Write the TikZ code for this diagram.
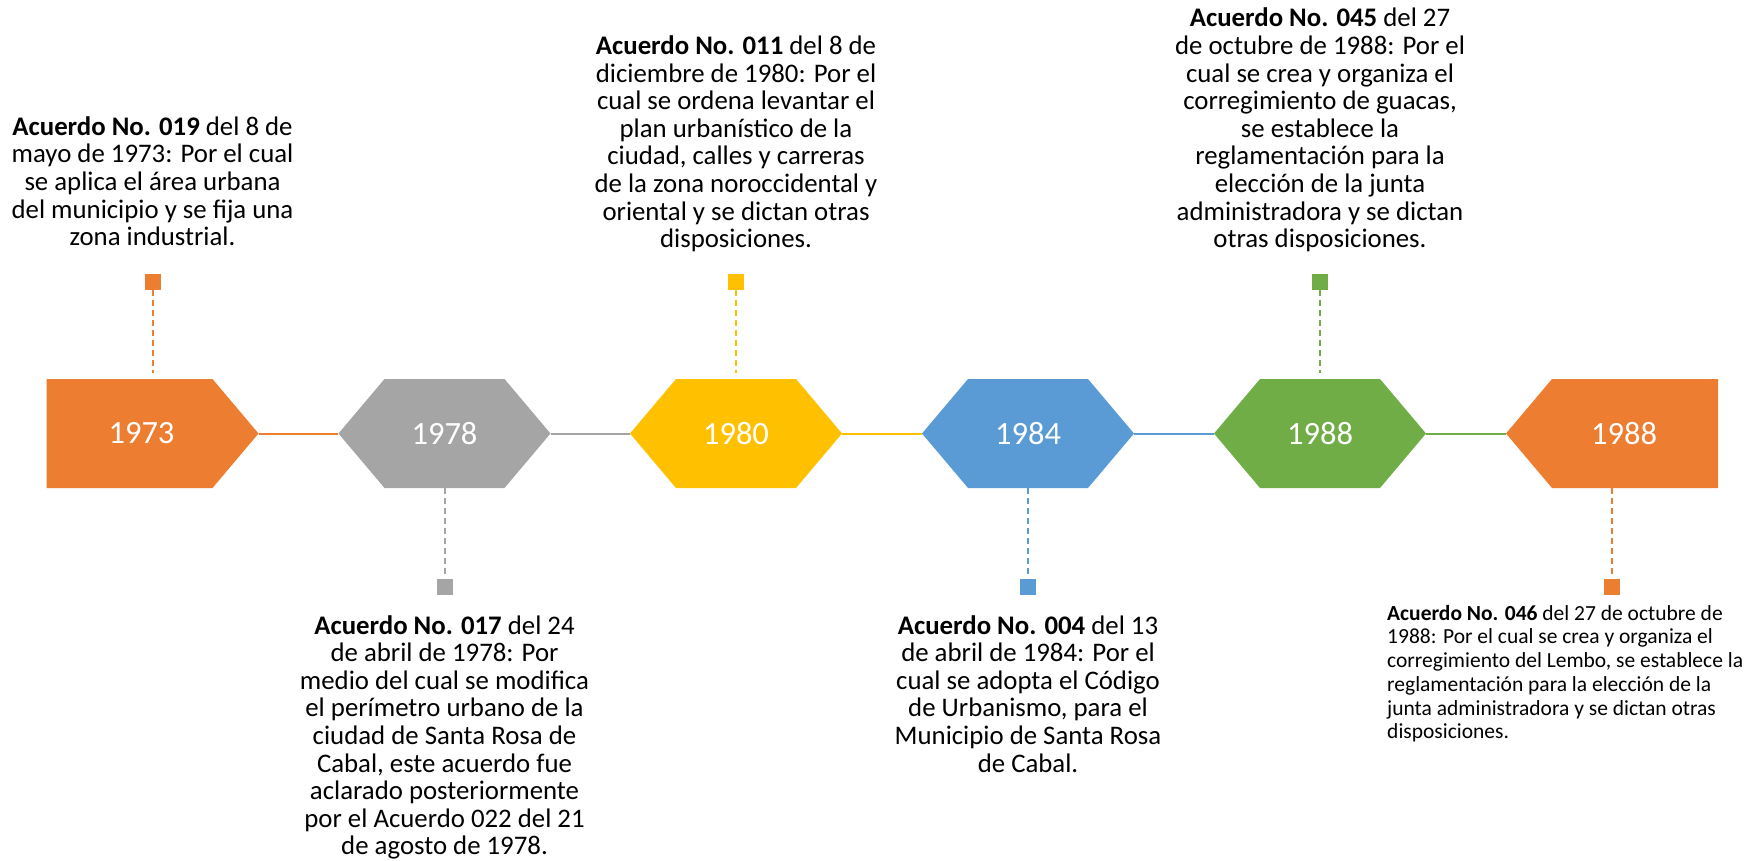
\documentclass[tikz,border=0pt]{standalone}
\usepackage{fontspec}
\setmainfont{Carlito}
\usetikzlibrary{positioning}
\definecolor{naranja}{HTML}{ED7D31}
\definecolor{gris}{HTML}{A5A5A5}
\definecolor{amarillo}{HTML}{FFC000}
\definecolor{azul}{HTML}{5B9BD5}
\definecolor{verde}{HTML}{70AD47}

\begin{document}
\begin{tikzpicture}[
    x=1pt, y=-1pt,
    yearbox/.style={minimum width=212pt, minimum height=109pt, inner sep=0pt,
      text=white, font=\fontsize{32.5}{32.5}\selectfont},
    hexa/.style={yearbox, path picture={\fill[#1]
      (path picture bounding box.west)
      -- ([xshift=46pt]path picture bounding box.north west)
      -- ([xshift=-46pt]path picture bounding box.north east)
      -- (path picture bounding box.east)
      -- ([xshift=-46pt]path picture bounding box.south east)
      -- ([xshift=46pt]path picture bounding box.south west) -- cycle;}},
    start/.style={yearbox, path picture={\fill[#1]
      (path picture bounding box.north west)
      -- ([xshift=-46pt]path picture bounding box.north east)
      -- (path picture bounding box.east)
      -- ([xshift=-46pt]path picture bounding box.south east)
      -- (path picture bounding box.south west) -- cycle;}},
    finish/.style={yearbox, path picture={\fill[#1]
      (path picture bounding box.west)
      -- ([xshift=46pt]path picture bounding box.north west)
      -- (path picture bounding box.north east)
      -- (path picture bounding box.south east)
      -- ([xshift=46pt]path picture bounding box.south west) -- cycle;}},
    mark box/.style={minimum size=16pt, inner sep=0pt, fill=#1},
    guide/.style={draw=#1, line width=2pt, dash pattern=on 6pt off 4pt},
    link/.style={draw=#1, line width=2pt},
    note/.style={align=center, inner sep=0pt, text depth=0pt,
      font=\fontsize{26.8}{27.6}\selectfont},
    note up/.style={note, anchor=south},
    note down/.style={note, anchor=north}
  ]
  \useasboundingbox (0,0) rectangle (1756,861);

  % years on the line
  \node[start=naranja, label={[text=white, font=\fontsize{32.5}{32.5}\selectfont, xshift=-11pt]center:1973}] (y73) at (152.5,433.5) {};
  \node[hexa=gris] (y78) at (444.5,433.5) {1978};
  \node[hexa=amarillo] (y80) at (736,433.5) {1980};
  \node[hexa=azul] (y84) at (1028,433.5) {1984};
  \node[hexa=verde] (y88) at (1320,433.5) {1988};
  \node[finish=naranja, label={[text=white, font=\fontsize{32.5}{32.5}\selectfont, xshift=12pt]center:1988}] (y88b) at (1612,433.5) {};

  \draw[link=naranja] (y73.east) -- (y78.west);
  \draw[link=gris] (y78.east) -- (y80.west);
  \draw[link=amarillo] (y80.east) -- (y84.west);
  \draw[link=azul] (y84.east) -- (y88.west);
  \draw[link=verde] (y88.east) -- (y88b.west);

  % markers
  \node[mark box=naranja] (m73) at (152.5,281.5) {};
  \node[mark box=gris] (m78) at (444.5,586.5) {};
  \node[mark box=amarillo] (m80) at (736,281.5) {};
  \node[mark box=azul] (m84) at (1028,586.5) {};
  \node[mark box=verde] (m88) at (1320,281.5) {};
  \node[mark box=naranja] (m88b) at (1612,586.5) {};

  \draw[guide=naranja, shorten >=6pt] (m73) -- (y73);
  \draw[guide=gris, shorten >=2pt] (y78) -- (m78);
  \draw[guide=amarillo, shorten >=6pt] (m80) -- (y80);
  \draw[guide=azul, shorten >=2pt] (y84) -- (m84);
  \draw[guide=verde, shorten >=6pt] (m88) -- (y88);
  \draw[guide=naranja, shorten >=2pt] (y88b) -- (m88b);

  % texts
  \node[note up] (t73) at (152.5,246) {\textbf{Acuerdo No. 019} del 8 de\\mayo de 1973: Por el cual\\se aplica el área urbana\\del municipio y se fija una\\zona industrial.};
  \node[note up] (t80) at (736,248) {\textbf{Acuerdo No. 011} del 8 de\\diciembre de 1980: Por el\\cual se ordena levantar el\\plan urbanístico de la\\ciudad, calles y carreras\\de la zona noroccidental y\\oriental y se dictan otras\\disposiciones.};
  \node[note up] (t88) at (1320,248) {\textbf{Acuerdo No. 045} del 27\\de octubre de 1988: Por el\\cual se crea y organiza el\\corregimiento de guacas,\\se establece la\\reglamentación para la\\elección de la junta\\administradora y se dictan\\otras disposiciones.};
  \node[note down] (t78) at (444.5,615) {\textbf{Acuerdo No. 017} del 24\\de abril de 1978: Por\\medio del cual se modifica\\el perímetro urbano de la\\ciudad de Santa Rosa de\\Cabal, este acuerdo fue\\aclarado posteriormente\\por el Acuerdo 022 del 21\\de agosto de 1978.};
  \node[note down] (t84) at (1028,615) {\textbf{Acuerdo No. 004} del 13\\de abril de 1984: Por el\\cual se adopta el Código\\de Urbanismo, para el\\Municipio de Santa Rosa\\de Cabal.};
  \node[align=left, inner sep=0pt, anchor=north west, font=\fontsize{21.5}{23.7}\selectfont] (t88b) at (1387,605) {\textbf{Acuerdo No. 046} del 27 de octubre de\\1988: Por el cual se crea y organiza el\\corregimiento del Lembo, se establece la\\reglamentación para la elección de la\\junta administradora y se dictan otras\\disposiciones.};
\end{tikzpicture}
\end{document}
